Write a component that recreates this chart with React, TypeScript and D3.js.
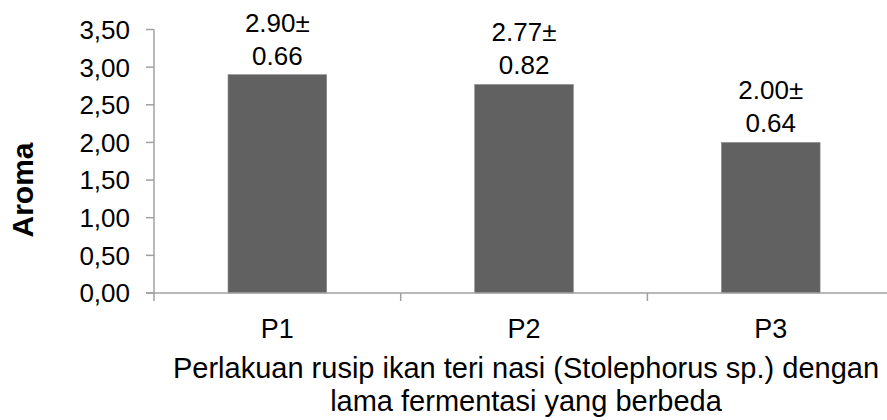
import { useRef, useEffect } from "react";
import * as d3 from "d3";

const categories = ["P1", "P2", "P3"];
const means = [2.9, 2.77, 2.0];
const sds = [0.66, 0.82, 0.64];
const yTicks = [0, 0.5, 1, 1.5, 2, 2.5, 3, 3.5];
const yLabel = "Aroma";
const xTitle = ["Perlakuan rusip ikan teri nasi (Stolephorus sp.) dengan", "lama fermentasi yang berbeda"];

export default function App() {
  const svgRef = useRef<SVGSVGElement | null>(null);

  useEffect(() => {
    if (!svgRef.current) return;
    const svg = d3.select(svgRef.current);
    svg.selectAll("*").remove();

    const width = 887;
    const margin = { top: 29.5, left: 154, bottom: 293 };
    const step = 246.7;
    const font = "'Liberation Sans', Arial, sans-serif";
    const axisColor = "#a0a0a0";

    const x = d3
      .scaleBand()
      .domain(categories)
      .range([margin.left, margin.left + step * categories.length])
      .paddingInner(0.6)
      .paddingOuter(0.3);

    const y = d3.scaleLinear().domain([0, 3.5]).range([margin.bottom, margin.top]);

    const data = categories.map((c, i) => ({ cat: c, mean: means[i], sd: sds[i] }));

    // bars
    svg
      .append("g")
      .selectAll("rect")
      .data(data)
      .join("rect")
      .attr("x", (d) => x(d.cat)!)
      .attr("y", (d) => y(d.mean))
      .attr("width", x.bandwidth())
      .attr("height", (d) => y(0) - y(d.mean))
      .attr("fill", "#616161")
      .attr("stroke", "#8a8a8a")
      .attr("stroke-width", 0.6);

    // y axis
    const yAxis = svg.append("g").attr("transform", `translate(${margin.left},0)`);
    yAxis
      .append("line")
      .attr("x1", 0)
      .attr("x2", 0)
      .attr("y1", y(3.5))
      .attr("y2", y(0) + 8)
      .attr("stroke", axisColor)
      .attr("stroke-width", 1.5);
    yAxis
      .selectAll("line.tick")
      .data(yTicks)
      .join("line")
      .attr("class", "tick")
      .attr("x1", -8)
      .attr("x2", 0)
      .attr("y1", (d) => y(d))
      .attr("y2", (d) => y(d))
      .attr("stroke", axisColor)
      .attr("stroke-width", 1.5);
    yAxis
      .selectAll("text")
      .data(yTicks)
      .join("text")
      .attr("x", -24)
      .attr("y", (d) => y(d))
      .attr("dy", "0.36em")
      .attr("text-anchor", "end")
      .attr("font-family", font)
      .attr("font-size", 26)
      .attr("fill", "#000")
      .text((d) => d.toFixed(2).replace(".", ","));

    // x axis
    const xAxis = svg.append("g").attr("transform", `translate(0,${y(0)})`);
    xAxis
      .append("line")
      .attr("x1", margin.left - 8)
      .attr("x2", width)
      .attr("stroke", axisColor)
      .attr("stroke-width", 1.5);
    const bounds = categories.map((c) => x(c)! - (x.step() - x.bandwidth()) / 2).slice(1);
    xAxis
      .selectAll("line.tick")
      .data(bounds)
      .join("line")
      .attr("class", "tick")
      .attr("x1", (d) => d)
      .attr("x2", (d) => d)
      .attr("y1", 0)
      .attr("y2", 8)
      .attr("stroke", axisColor)
      .attr("stroke-width", 1.5);
    xAxis
      .selectAll("text")
      .data(categories)
      .join("text")
      .attr("x", (d) => x(d)! + x.bandwidth() / 2)
      .attr("y", 45)
      .attr("text-anchor", "middle")
      .attr("font-family", font)
      .attr("font-size", 27)
      .attr("fill", "#000")
      .text((d) => d);

    // value labels
    const labels = svg
      .append("g")
      .selectAll("text")
      .data(data)
      .join("text")
      .attr("text-anchor", "middle")
      .attr("font-family", font)
      .attr("font-size", 26)
      .attr("fill", "#000");
    labels
      .append("tspan")
      .attr("x", (d) => x(d.cat)! + x.bandwidth() / 2)
      .attr("y", (d) => y(d.mean) - 43)
      .text((d) => `${d.mean.toFixed(2)}±`);
    labels
      .append("tspan")
      .attr("x", (d) => x(d.cat)! + x.bandwidth() / 2)
      .attr("y", (d) => y(d.mean) - 10)
      .text((d) => d.sd.toFixed(2));

    // axis titles
    svg
      .append("text")
      .attr("transform", `translate(33,190) rotate(-90)`)
      .attr("text-anchor", "middle")
      .attr("font-family", font)
      .attr("font-size", 30)
      .attr("font-weight", "bold")
      .attr("fill", "#000")
      .text(yLabel);

    svg
      .append("g")
      .selectAll("text")
      .data(xTitle)
      .join("text")
      .attr("x", 526)
      .attr("y", (_, i) => 378 + i * 33)
      .attr("text-anchor", "middle")
      .attr("font-family", font)
      .attr("font-size", 29)
      .attr("fill", "#000")
      .text((d) => d);
  }, []);

  return (
    <svg
      ref={svgRef}
      width={887}
      height={420}
      style={{ position: "fixed", top: 0, left: 0, background: "#fff" }}
    ></svg>
  );
}
